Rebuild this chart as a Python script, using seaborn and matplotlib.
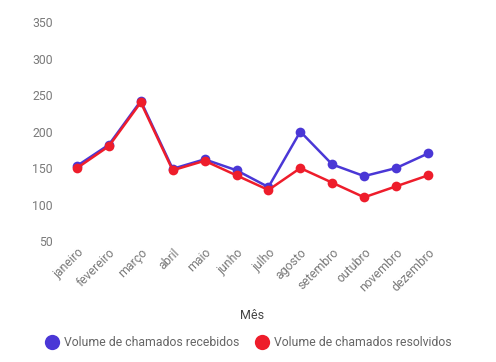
import pandas as pd
import seaborn as sns
import matplotlib.pyplot as plt
from matplotlib.lines import Line2D

# Data
meses = ['janeiro', 'fevereiro', 'março', 'abril', 'maio', 'junho',
         'julho', 'agosto', 'setembro', 'outubro', 'novembro', 'dezembro']
recebidos = [153, 182, 242, 149, 162, 147, 124, 200, 155, 139, 150, 170]
resolvidos = [150, 180, 240, 147, 160, 140, 120, 150, 130, 110, 125, 140]
series = ['Volume de chamados recebidos', 'Volume de chamados resolvidos']
cores = ['#4a37d6', '#ee1d2b']

df = pd.DataFrame({
    'Mês': meses * 2,
    'valor': recebidos + resolvidos,
    'serie': [series[0]] * 12 + [series[1]] * 12,
})

sns.set_style('white')
plt.rcParams['font.family'] = ['Roboto', 'DejaVu Sans']

fig = plt.figure(figsize=(4.96, 3.62), dpi=100)
ax = fig.add_axes([0.123, 0.334, 0.772, 0.605])

sns.lineplot(data=df, x='Mês', y='valor', hue='serie', palette=cores,
             marker='o', markersize=7, markeredgewidth=0, linewidth=1.8,
             sort=False, legend=False, ax=ax)

ax.set_xlim(-0.5, 11.5)
ax.set_ylim(50, 350)
ax.set_yticks(range(50, 351, 50))
ax.set_ylabel('')
ax.set_xlabel('Mês', fontsize=9, color='#444444', labelpad=11)
for s in ax.spines.values():
    s.set_visible(False)
ax.tick_params(axis='both', length=0, labelsize=8.8, labelcolor='#7a7a7a')
ax.tick_params(axis='y', pad=6)
plt.setp(ax.get_xticklabels(), rotation=45, ha='right', rotation_mode='anchor')

handles = [Line2D([], [], marker='o', linestyle='', markersize=11,
                  markerfacecolor=c, markeredgewidth=0) for c in cores]
fig.legend(handles, series, loc='lower center', bbox_to_anchor=(0.5, 0.005),
           ncol=2, frameon=False, fontsize=8.8, labelcolor='#666666',
           handletextpad=0.4, columnspacing=1.2, handlelength=1.2)

plt.savefig('out.png', dpi=100)
